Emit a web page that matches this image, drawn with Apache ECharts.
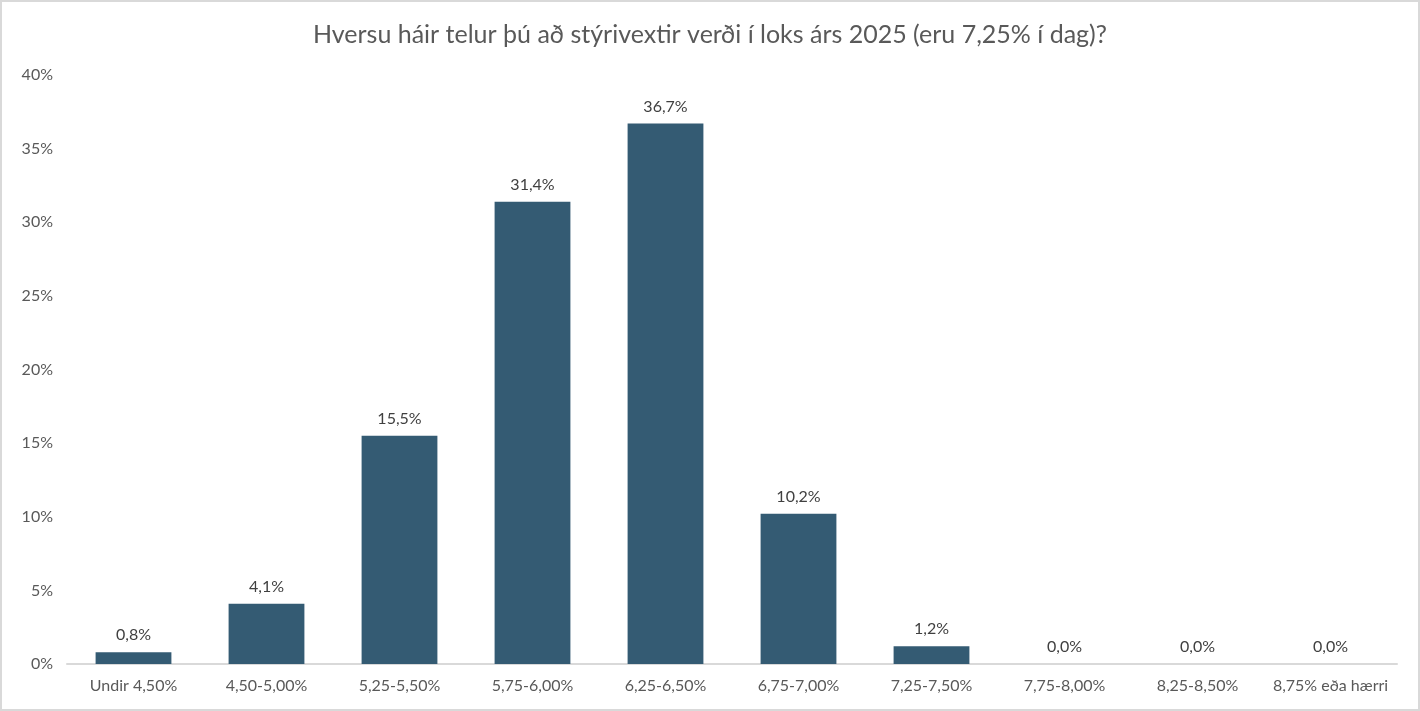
<!DOCTYPE html>
<html><head><meta charset="utf-8">
<script src="https://cdn.jsdelivr.net/npm/echarts@6/dist/echarts.min.js"></script>
<style>html,body{margin:0;padding:0;background:#fff}#c{width:1420px;height:711px;box-sizing:border-box;border:2px solid #d9d9d9}</style>
</head><body><div id="c"></div>
<script>
const title = 'Hversu háir telur þú að stýrivextir verði í loks árs 2025 (eru 7,25% í dag)?';
const categories = ['Undir 4,50%','4,50-5,00%','5,25-5,50%','5,75-6,00%','6,25-6,50%','6,75-7,00%','7,25-7,50%','7,75-8,00%','8,25-8,50%','8,75% eða hærri'];
const values = [0.8, 4.1, 15.5, 31.4, 36.7, 10.2, 1.2, 0.0, 0.0, 0.0];
const yTicks = [0,5,10,15,20,25,30,35,40];
const font = 'Lato, "Open Sans", sans-serif';
const chart = echarts.init(document.getElementById('c'));
chart.setOption({
  animation:false,
  title:{text:title,left:'center',top:15,textStyle:{fontFamily:font,fontSize:25,fontWeight:'normal',color:'#595959'}},
  grid:{left:65,right:21,top:73,bottom:45},
  xAxis:{type:'category',data:categories,axisTick:{show:false},axisLine:{lineStyle:{color:'#d9d9d9',width:2}},
    axisLabel:{fontFamily:font,fontSize:16,color:'#595959',margin:14,interval:0}},
  yAxis:{type:'value',min:yTicks[0],max:yTicks[yTicks.length-1],interval:5,splitLine:{show:false},axisLine:{show:false},axisTick:{show:false},
    axisLabel:{fontFamily:font,fontSize:16,color:'#595959',margin:14,formatter:v=>v+'%'}},
  series:[{type:'bar',data:values,barWidth:'57%',itemStyle:{color:'#345B73'},
    label:{show:true,position:'top',distance:9,fontFamily:font,fontSize:16,color:'#404040',formatter:p=>p.value.toFixed(1).replace('.',',')+'%'}}]
});
</script></body></html>
